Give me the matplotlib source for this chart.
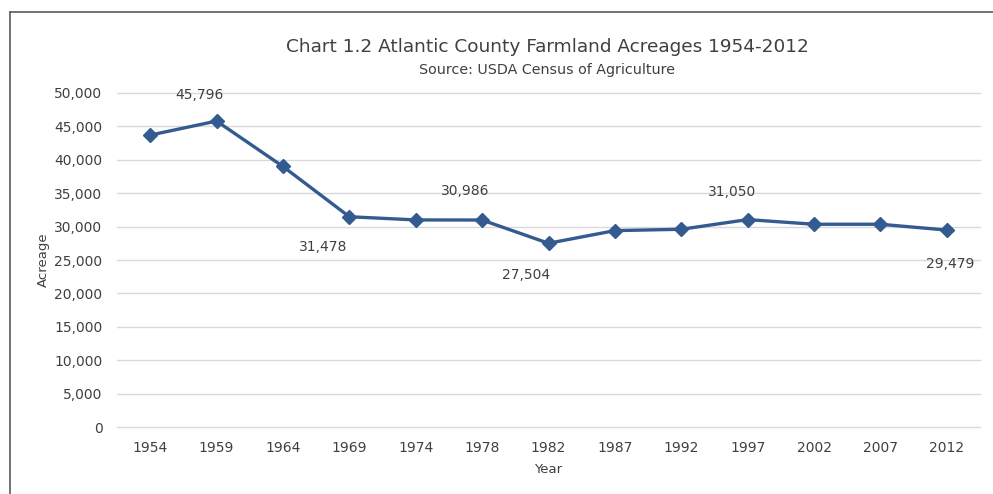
import matplotlib
matplotlib.use("Agg")
import matplotlib.pyplot as plt
from matplotlib.lines import Line2D
from matplotlib.ticker import FuncFormatter

years = ["1954", "1959", "1964", "1969", "1974", "1978", "1982", "1987", "1992", "1997", "2002", "2007", "2012"]
acreage = [43700, 45796, 39000, 31478, 31000, 30986, 27504, 29400, 29600, 31050, 30350, 30350, 29479]
label_idx = [1, 3, 5, 6, 9, 12]

# label offsets in pixels (style only)
label_dx = [-17, -26, -17, -22, -16, 3]
label_dy = [26, -30, 29, -32, 28, -34]

plt.rcParams['font.family'] = ['DejaVu Sans']
txt = '#404040'
line_c = '#335B8F'

fig = plt.figure(figsize=(9.93, 4.94), dpi=100)
ax = fig.add_axes([117/993, 1-427/494, 863/993, 334/494])
x = list(range(len(years)))
ax.plot(x, acreage, color=line_c, lw=2.4, marker='D', markersize=7.5,
        markerfacecolor=line_c, markeredgecolor=line_c, zorder=3)
ax.set_xlim(-0.5, len(years)-0.5)
ax.set_ylim(0, 50000)
ax.set_yticks(range(0, 50001, 5000))
ax.yaxis.set_major_formatter(FuncFormatter(lambda v, p: f"{int(v):,}"))
ax.set_xticks(x)
ax.set_xticklabels(years)
ax.grid(axis='y', color='#D9D9D9', lw=1)
for gl in ax.get_ygridlines():
    gl.set_clip_on(False)
ax.set_axisbelow(True)
for s in ax.spines.values():
    s.set_visible(False)
ax.tick_params(length=0, colors=txt, labelsize=10)
ax.tick_params(axis='x', pad=10)
ax.tick_params(axis='y', pad=10.5)

for i, dx, dy in zip(label_idx, label_dx, label_dy):
    ax.annotate(f"{acreage[i]:,}", (i, acreage[i]), xytext=(dx, dy), textcoords='offset pixels',
                ha='center', va='center', color=txt, fontsize=10)

fig.text(547/993, 1-47/494, "Chart 1.2 Atlantic County Farmland Acreages 1954-2012",
         ha='center', va='center', fontsize=13.3, color=txt)
fig.text(547/993, 1-70/494, "Source: USDA Census of Agriculture",
         ha='center', va='center', fontsize=10.3, color=txt)
fig.text(43/993, 1-260/494, "Acreage", rotation=90, ha='center', va='center', fontsize=9.5, color=txt)
fig.text(548/993, 1-469/494, "Year", ha='center', va='center', fontsize=9.5, color=txt)

fig.add_artist(Line2D([10/993, 10/993], [0, 1-12/494], transform=fig.transFigure, color='#595959', lw=1.2))
fig.add_artist(Line2D([10/993, 1], [1-12/494, 1-12/494], transform=fig.transFigure, color='#595959', lw=1.2))

fig.savefig("out.png", dpi=100)
